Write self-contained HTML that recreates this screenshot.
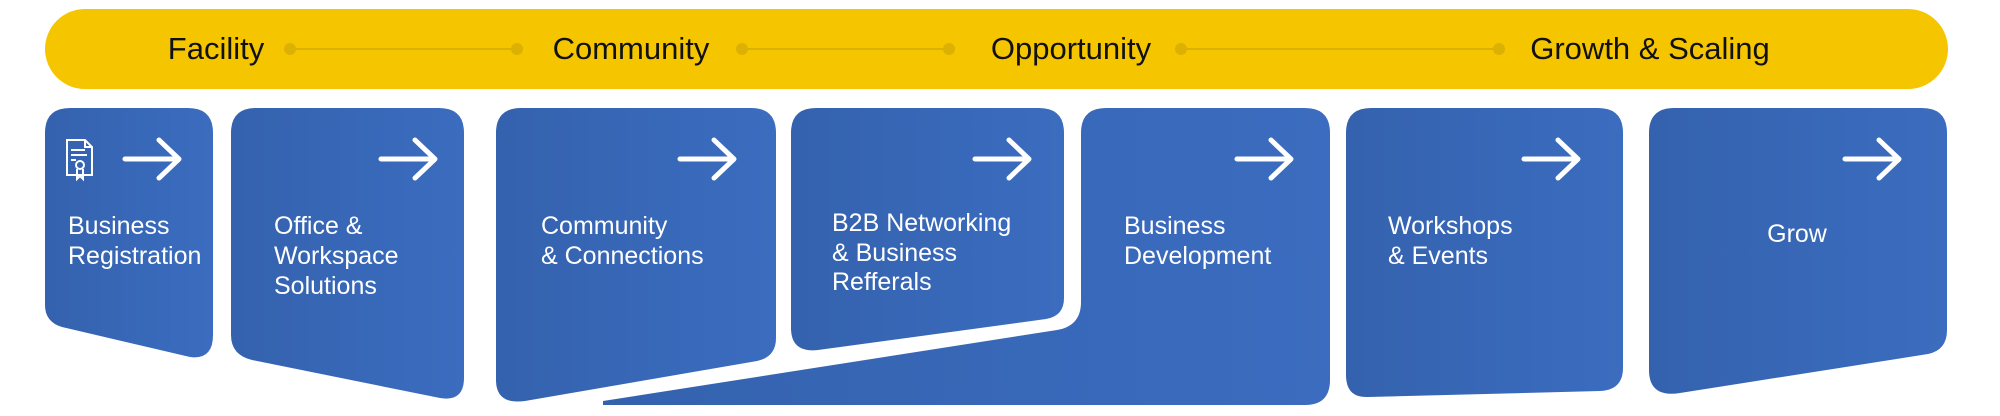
<!DOCTYPE html>
<html><head><meta charset="utf-8"><style>
html,body{margin:0;padding:0;background:#fff;}
svg{display:block;}
text{font-family:"Liberation Sans",sans-serif;}
</style></head><body>
<svg width="2000" height="416" viewBox="0 0 2000 416" xmlns="http://www.w3.org/2000/svg">
<defs>
<linearGradient id="g" x1="0" y1="0" x2="1" y2="0">
<stop offset="0" stop-color="#3462ae"/><stop offset="1" stop-color="#3b6cbf"/>
</linearGradient>
<g id="arr"><path d="M0,0 H52 M34,-19 L54,0 L34,19" fill="none" stroke="#fff" stroke-width="5" stroke-linecap="round" stroke-linejoin="round"/></g>
</defs>
<rect x="45" y="9" width="1903" height="80" rx="40" fill="#f5c500"/>
<g stroke="#ddb004" stroke-width="2"><line x1="290" y1="49" x2="517" y2="49"/><line x1="742" y1="49" x2="949" y2="49"/><line x1="1181" y1="49" x2="1499" y2="49"/></g>
<g fill="#ddb004"><circle cx="290" cy="49" r="6"/><circle cx="517" cy="49" r="6"/><circle cx="742" cy="49" r="6"/><circle cx="949" cy="49" r="6"/><circle cx="1181" cy="49" r="6"/><circle cx="1499" cy="49" r="6"/></g>
<g font-size="31" fill="#111" text-anchor="middle">
<text x="216" y="59">Facility</text><text x="631" y="59">Community</text><text x="1071" y="59">Opportunity</text><text x="1650" y="59">Growth &amp; Scaling</text>
</g>
<g fill="url(#g)">
<path d="M70,108 L188,108 Q213,108 213,133 L213,335 Q213,360 190,357 L62,327 Q45,322 45,305 L45,133 Q45,108 70,108Z"/>
<path d="M256,108 L439,108 Q464,108 464,133 L464,378 Q464,402 440,398 L252,360 Q231,355 231,335 L231,133 Q231,108 256,108Z"/>
<path d="M521,108 L751,108 Q776,108 776,133 L776,338 Q776,357 757,361 L525,401 Q496,405 496,380 L496,133 Q496,108 521,108Z"/>
<path d="M816,108 L1039,108 Q1064,108 1064,133 L1064,298 Q1064,316 1046,319 L818,350 Q791,353 791,328 L791,133 Q791,108 816,108Z"/>
<path d="M1106,108 L1305,108 Q1330,108 1330,133 L1330,380 Q1330,405 1305,405 L603,405 L603,401 L1057,330 Q1081,326 1081,302 L1081,133 Q1081,108 1106,108Z"/>
<path d="M1371,108 L1598,108 Q1623,108 1623,133 L1623,368 Q1623,390 1600,391 L1368,397 Q1346,398 1346,375 L1346,133 Q1346,108 1371,108Z"/>
<path d="M1674,108 L1922,108 Q1947,108 1947,133 L1947,330 Q1947,350 1928,354 L1680,393 Q1649,398 1649,370 L1649,133 Q1649,108 1674,108Z"/>
</g>
<use href="#arr" x="125" y="159"/><use href="#arr" x="381" y="159"/><use href="#arr" x="680" y="159"/><use href="#arr" x="975" y="159"/><use href="#arr" x="1237" y="159"/><use href="#arr" x="1524" y="159"/><use href="#arr" x="1845" y="159"/>
<g fill="none" stroke="#fff" stroke-width="2">
<path d="M67,140 H85 L92,147 V175 H67 Z M85,140 V147 H92"/>
<line x1="71" y1="150" x2="85" y2="150"/><line x1="71" y1="155" x2="87" y2="155"/><line x1="71" y1="160" x2="76" y2="160"/>
<circle cx="80" cy="165" r="4"/><path d="M77,169 V179 L80,176 L83,179 V169"/>
</g>
<g font-size="25" fill="#fff">
<text x="68" y="234">Business</text><text x="68" y="264">Registration</text>
<text x="274" y="234">Office &amp;</text><text x="274" y="264">Workspace</text><text x="274" y="294">Solutions</text>
<text x="541" y="234">Community</text><text x="541" y="264">&amp; Connections</text>
<text x="832" y="231">B2B Networking</text><text x="832" y="261">&amp; Business</text><text x="832" y="290">Refferals</text>
<text x="1124" y="234">Business</text><text x="1124" y="264">Development</text>
<text x="1388" y="234">Workshops</text><text x="1388" y="264">&amp; Events</text>
<text x="1797" y="242" text-anchor="middle">Grow</text>
</g>
</svg>
</body></html>
